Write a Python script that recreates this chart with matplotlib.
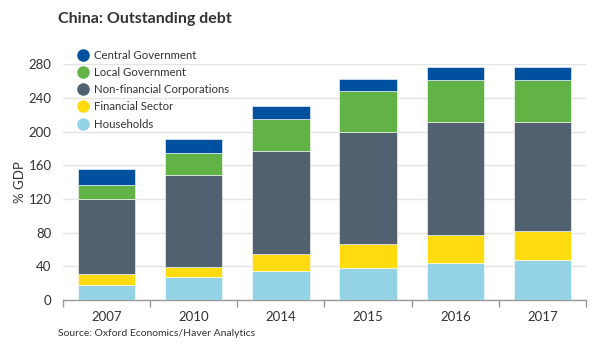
import numpy as np
import matplotlib
matplotlib.use("Agg")
from matplotlib import pyplot as plt
from matplotlib.lines import Line2D

plt.rcParams['font.family'] = ['Lato', 'DejaVu Sans']

# 数値はグラフから読み取った推定値 (% GDP)
years = ["2007", "2010", "2014", "2015", "2016", "2017"]
households = [18, 27, 35, 38, 44, 48]
financial = [13, 12, 20, 28, 33, 34]
non_financial = [89, 110, 122, 133, 135, 130]
local_gov = [17, 26, 38, 49, 49, 49]
central_gov = [19, 16, 15, 15, 16, 16]

series_names = ["Households", "Financial Sector", "Non-financial Corporations",
                "Local Government", "Central Government"]
colors = ["#94D2E5", "#FEDB0E", "#51616F", "#62B346", "#0050A0"]
y_ticks = [0, 40, 80, 120, 160, 200, 240, 280]

fig = plt.figure(figsize=(6, 3.49), dpi=100)
ax = fig.add_axes([0.1045, 0.1404, 0.8725, 0.6754])

x = np.arange(len(years))
bottom = np.zeros(len(years))
for vals, col in zip([households, financial, non_financial, local_gov, central_gov], colors):
    ax.bar(x, vals, width=0.66, bottom=bottom, color=col,
           edgecolor="#ffffff", linewidth=0.4, zorder=3)
    bottom += np.array(vals)

ax.set_xlim(-0.5, len(years) - 0.5)
ax.set_ylim(0, 280)
ax.set_yticks(y_ticks)
ax.set_xticks(x)
ax.set_xticklabels(years)
# カテゴリ境界に目盛りを付ける
ax.set_xticks(np.arange(len(years) + 1) - 0.5, minor=True)
ax.tick_params(axis="x", which="major", length=0, pad=8, labelsize=9.5, labelcolor="#333333")
ax.tick_params(axis="x", which="minor", length=5, color="#999999", width=1)
ax.tick_params(axis="y", length=0, pad=8, labelsize=9.5, labelcolor="#333333")
ax.grid(axis="y", color="#e4e4e4", linewidth=1, zorder=0)
for s in ["top", "right", "left"]:
    ax.spines[s].set_visible(False)
ax.spines["bottom"].set_color("#999999")
ax.spines["bottom"].set_linewidth(1)
ax.set_ylabel("% GDP", fontsize=9.5, color="#333333", labelpad=2)

fig.text(0.097, 0.945, "China: Outstanding debt", fontsize=11.5, fontweight="bold",
         color="#333333", va="center")
fig.text(0.097, 0.045, "Source: Oxford Economics/Haver Analytics", fontsize=7.5,
         color="#333333", va="center")

# 凡例 (上から Central Government)
handles = [Line2D([], [], marker="o", linestyle="", markersize=8, color=c)
           for c in colors[::-1]]
fig.legend(handles, series_names[::-1], loc="upper left", bbox_to_anchor=(0.118, 0.874),
           frameon=False, fontsize=8.2, labelspacing=0.55, handletextpad=0.3,
           handlelength=1.2, borderpad=0, labelcolor="#333333")

plt.savefig("out.png", dpi=100)
